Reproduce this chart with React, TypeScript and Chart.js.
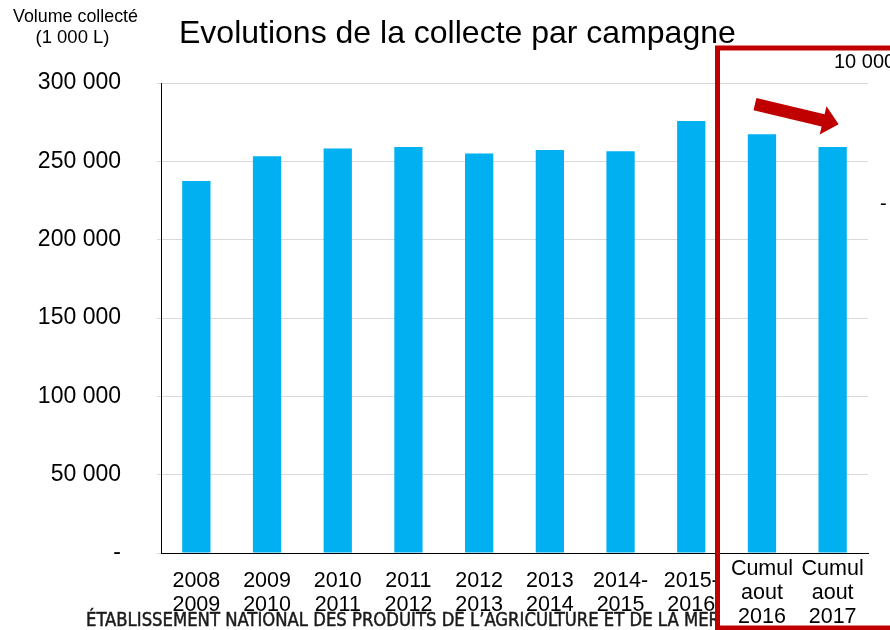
import React, { useEffect, useRef } from 'react';
import { Chart, registerables } from 'chart.js';

Chart.register(...registerables);

const categories: string[][] = [
  ['2008', '2009'],
  ['2009', '2010'],
  ['2010', '2011'],
  ['2011', '2012'],
  ['2012', '2013'],
  ['2013', '2014'],
  ['2014-', '2015'],
  ['2015-', '2016'],
  ['Cumul', 'aout', '2016'],
  ['Cumul', 'aout', '2017'],
];
const volumes: number[] = [237500, 253300, 258200, 259100, 255000, 257300, 256500, 275800, 267300, 259100];
const yMin = 0;
const yMax = 300000;
const yStep = 50000;
const titleText = 'Evolutions de la collecte par campagne';
const yTitleLines = ['Volume collecté', '(1 000 L)'];
const footerText = 'ÉTABLISSEMENT NATIONAL DES PRODUITS DE L’AGRICULTURE ET DE LA MER';
const rightAxisLabels = ['10 000', '-'];

const FONT = '"Liberation Sans", Arial, sans-serif';
const RED = '#C00000';

const formatTick = (v: number) =>
  v === 0 ? '-' : String(v).replace(/\B(?=(\d{3})+(?!\d))/g, ' ');

const extrasPlugin = {
  id: 'extras',
  beforeDraw(chart: any) {
    const ctx = chart.ctx as CanvasRenderingContext2D;
    ctx.save();
    ctx.textBaseline = 'alphabetic';
    ctx.textAlign = 'left';
    ctx.fillStyle = '#1a1a1a';
    ctx.strokeStyle = '#1a1a1a';
    ctx.lineWidth = 0.5;
    ctx.font = `20px "DejaVu Sans Condensed", "DejaVu Sans", sans-serif`;
    ctx.fillText(footerText, 86, 626, 634);
    ctx.strokeText(footerText, 86, 626, 634);
    ctx.restore();
  },
  afterDraw(chart: any) {
    const ctx = chart.ctx as CanvasRenderingContext2D;
    const xs = chart.scales.x;
    const ys = chart.scales.y;
    ctx.save();
    // title
    ctx.fillStyle = '#000';
    ctx.textBaseline = 'alphabetic';
    ctx.textAlign = 'left';
    ctx.font = `32px ${FONT}`;
    ctx.fillText(titleText, 179, 43);
    // y title
    ctx.textAlign = 'center';
    ctx.textBaseline = 'middle';
    ctx.font = `18.5px ${FONT}`;
    ctx.fillText(yTitleLines[0], 75.5, 17, 125);
    ctx.fillText(yTitleLines[1], 72.5, 38);
    // right axis remnants
    ctx.textAlign = 'left';
    ctx.font = `20px ${FONT}`;
    ctx.fillText(rightAxisLabels[0], 834, 62);
    ctx.fillText(rightAxisLabels[1], 880, 204);
    // arrow between last two bars
    const tailX = xs.getPixelForValue(8) - 7;
    const tailY = ys.getPixelForValue(286500);
    const tipX = xs.getPixelForValue(9) + 6;
    const tipY = ys.getPixelForValue(273700);
    const dx = tipX - tailX;
    const dy = tipY - tailY;
    const len = Math.hypot(dx, dy);
    const ux = dx / len;
    const uy = dy / len;
    const nx = -uy;
    const ny = ux;
    const shaftHalf = 6.3;
    const headHalf = 14.5;
    const headLen = 16;
    const bx = tipX - ux * headLen;
    const by = tipY - uy * headLen;
    ctx.fillStyle = RED;
    ctx.beginPath();
    ctx.moveTo(tailX + nx * shaftHalf, tailY + ny * shaftHalf);
    ctx.lineTo(bx + nx * shaftHalf, by + ny * shaftHalf);
    ctx.lineTo(bx + nx * headHalf, by + ny * headHalf);
    ctx.lineTo(tipX, tipY);
    ctx.lineTo(bx - nx * headHalf, by - ny * headHalf);
    ctx.lineTo(bx - nx * shaftHalf, by - ny * shaftHalf);
    ctx.lineTo(tailX - nx * shaftHalf, tailY - ny * shaftHalf);
    ctx.closePath();
    ctx.fill();
    // red highlight box
    ctx.strokeStyle = RED;
    ctx.lineWidth = 5;
    ctx.strokeRect(717.5, 48, 200, 580);
    ctx.restore();
  },
};

export default function App() {
  const canvasRef = useRef<HTMLCanvasElement | null>(null);

  useEffect(() => {
    if (!canvasRef.current) return;
    const chart = new Chart(canvasRef.current, {
      type: 'bar',
      data: {
        labels: categories,
        datasets: [
          {
            label: 'Volume collecté',
            data: volumes,
            backgroundColor: '#00B0F0',
            borderWidth: 0,
            barPercentage: 0.4,
            categoryPercentage: 1,
          },
        ],
      },
      options: {
        responsive: false,
        animation: false,
        layout: { padding: { left: 0, right: 22, top: 83, bottom: 0 } },
        plugins: {
          legend: { display: false },
          tooltip: { enabled: false },
          title: { display: false },
        },
        scales: {
          x: {
            grid: { display: false },
            border: { display: true, color: '#000', width: 1 },
            ticks: {
              color: '#000',
              font: { family: FONT, size: 21.5, lineHeight: 1.12 },
              padding: 8,
              maxRotation: 0,
              minRotation: 0,
              autoSkip: false,
              crossAlign: 'center',
            },
            afterFit(scale: any) {
              scale.height = 77;
            },
          },
          y: {
            min: yMin,
            max: yMax,
            grid: { color: '#d9d9d9', lineWidth: 1, drawTicks: true, tickLength: 4 },
            border: { display: true, color: '#000', width: 1 },
            ticks: {
              stepSize: yStep,
              color: '#000',
              padding: 36,
              font: { family: FONT, size: 23 },
              callback: (v: any) => formatTick(Number(v)),
            },
            afterFit(scale: any) {
              scale.width = 161;
            },
          },
        },
      },
      plugins: [extrasPlugin],
    });
    return () => chart.destroy();
  }, []);

  return (
    <div style={{ position: 'absolute', left: 0, top: 0, width: 890, height: 630, background: '#fff' }}>
      <canvas ref={canvasRef} width={890} height={630} />
    </div>
  );
}
